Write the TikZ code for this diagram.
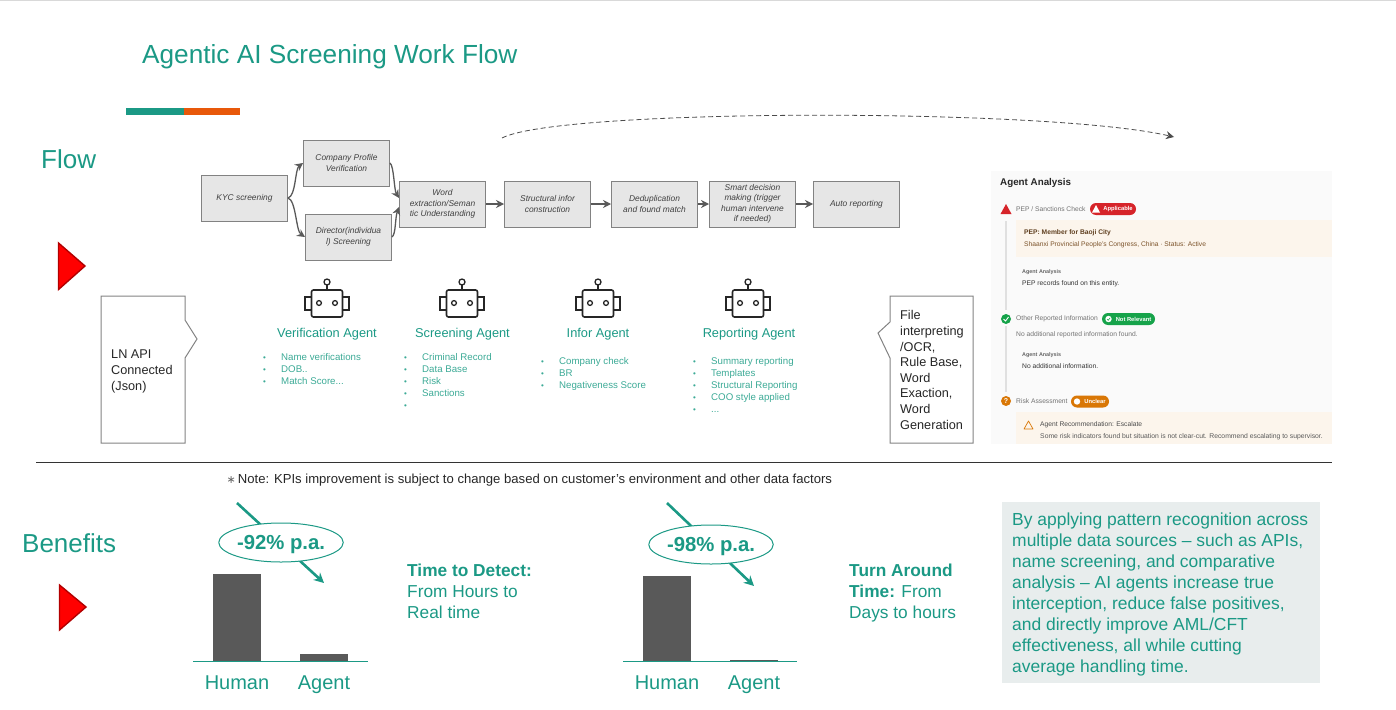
\documentclass[tikz,border=0pt]{standalone}
\usepackage{fontspec}
\setmainfont{Liberation Sans}
\newfontfamily\symfont{DejaVu Sans}
\usepackage{xcolor}
\usetikzlibrary{shapes.geometric,arrows.meta,positioning,calc}
\definecolor{screenteal}{RGB}{27,153,133}
\definecolor{listteal}{RGB}{60,170,150}
\definecolor{screenorange}{RGB}{232,88,10}
\definecolor{bargrey}{RGB}{89,89,89}
\definecolor{boxfill}{RGB}{230,230,230}
\definecolor{boxline}{RGB}{130,130,130}
\definecolor{panelfill}{RGB}{250,250,250}
\definecolor{peach}{RGB}{252,245,236}
\definecolor{summaryfill}{RGB}{232,237,237}
\definecolor{pillred}{RGB}{214,36,42}
\definecolor{pillgreen}{RGB}{22,163,74}
\definecolor{pillorange}{RGB}{217,119,6}
\newcommand{\fsize}[2]{\fontsize{#1}{#2}\selectfont}
\newcommand{\bul}{\makebox[18pt][l]{\fsize{8}{8}•}}
\tikzset{
  robot/.pic={
    \draw[line width=1.6pt, black!85, rounded corners=2pt] (-15.5,-13) rectangle (15.5,14);
    \draw[line width=1.3pt, black!85] (-15.5,-6) -- (-22,-6) -- (-22,7) -- (-15.5,7);
    \draw[line width=1.3pt, black!85] (15.5,-6) -- (22,-6) -- (22,7) -- (15.5,7);
    \draw[line width=1.3pt, black!85] (0,-13) -- (0,-18);
    \draw[line width=1.3pt, black!85] (0,-21) circle (3);
    \draw[line width=1.3pt, black!85] (-8,0) circle (2.4);
    \draw[line width=1.3pt, black!85] (8,0) circle (2.4);
  }
}
\begin{document}
\begin{tikzpicture}[x=1pt, y=-1pt,
  flowbox/.style={rectangle, draw=boxline, fill=boxfill, line width=1pt, minimum width=86pt,
    minimum height=46pt, inner sep=0pt, align=center, text=black!75, font=\fsize{8.4}{10.5}\itshape},
  flowarr/.style={-{Stealth[length=8pt, width=8pt]}, bargrey, line width=1.3pt},
  head/.style={anchor=west, inner sep=0pt, text=screenteal, font=\fsize{26}{30}},
  agentname/.style={inner sep=0pt, text=screenteal, font=\fsize{12.8}{15}},
  agentlist/.style={anchor=north west, inner sep=0pt, align=left, text=listteal, font=\fsize{9.7}{12}},
  note/.style={anchor=west, inner sep=0pt, align=left, text=black!85, font=\fsize{12.7}{15.6}},
  barlabel/.style={anchor=base, inner sep=0pt, text=screenteal, font=\fsize{20}{24}},
  kpi/.style={ellipse, draw=screenteal, fill=white, line width=1pt, minimum width=120pt, minimum height=39pt,
    inner sep=0pt, text depth=0pt, text=screenteal, font=\fsize{20.3}{24}\bfseries},
  kpiarr/.style={-{Stealth[length=10pt, width=10pt]}, screenteal, line width=2.6pt},
  benefit/.style={anchor=north west, inner sep=0pt, align=left, text=screenteal, font=\fsize{17.3}{21}},
  uitext/.style={anchor=west, inner sep=0pt, text=black!55, font=\fsize{6.7}{8}},
  uidark/.style={anchor=west, inner sep=0pt, text=black!80, font=\fsize{6.7}{8}},
  uismall/.style={anchor=west, inner sep=0pt, text=black!60, font=\fsize{5.4}{7}\bfseries},
  pill/.style={rounded corners=6pt, minimum height=12pt, inner sep=0pt, text=white, font=\fsize{5.8}{7}\bfseries},
  redtri/.style={fill=red, draw=red!70!black, line width=1.4pt}]
\useasboundingbox (0,0) rectangle (1396,709);
\draw[black!15, line width=0.8pt] (0,0.4) -- (1396,0.4);
% header
\node[head, font=\fsize{26.2}{30}] (title) at (142,57) {Agentic AI Screening Work Flow};
\fill[screenteal] (126,108) rectangle (184,115);
\fill[screenorange] (184,108) rectangle (240,115);
\node[head] (flowhead) at (41,159) {Flow};
\node[head] (benefithead) at (22,543) {Benefits};
\draw[redtri] (58.5,243) -- (85,266) -- (58.5,289.5) -- cycle;
\draw[redtri] (59.5,585) -- (86,607) -- (59.5,630) -- cycle;
% flow
\node[flowbox] (kyc) at (244.5,198) {KYC screening};
\node[flowbox] (company) at (346.5,163) {Company Profile\\Verification};
\node[flowbox] (director) at (348.5,237) {Director(individua\\l) Screening};
\node[flowbox] (word) at (442.5,204) {Word\\extraction/Seman\\tic Understanding};
\node[flowbox, right=18pt of word] (structural) {Structural infor\\construction};
\node[flowbox, right=20pt of structural] (dedup) {Deduplication\\and found match};
\node[flowbox, right=11pt of dedup] (smart) {Smart decision\\making (trigger\\human intervene\\if needed)};
\node[flowbox, right=17pt of smart] (auto) {Auto reporting};
\draw[flowarr] (kyc.east) .. controls ($(kyc.east)+(8,-2)$) and ($(company.west)+(-8,6)$) .. (company.west);
\draw[flowarr] (kyc.east) .. controls ($(kyc.east)+(8,2)$) and ($(director.west)+(-9,-6)$) .. (director.west);
\draw[flowarr] (company.east) .. controls ($(company.east)+(4,3)$) and ($(word.west)+(-5,-14)$) .. ($(word.west)+(0,-6)$);
\draw[flowarr] (director.east) .. controls ($(director.east)+(4,-3)$) and ($(word.west)+(-4,14)$) .. ($(word.west)+(0,3)$);
\foreach \a/\b in {word/structural,structural/dedup,dedup/smart,smart/auto} \draw[flowarr] (\a) -- (\b);
\coordinate (loopstart) at (502,138);
\coordinate (loopend) at (1174,137);
\draw[-{Stealth[length=8pt, width=8pt]}, black!70, dash pattern=on 5pt off 3pt, line width=0.8pt] (loopstart)
  .. controls (560,108) and (1050,108) .. (loopend);
% agents
\pic at (327,303) {robot};
\pic at (462,303) {robot};
\pic at (598,303) {robot};
\pic at (748,303) {robot};
\node[agentname] (veragent) at (327,334.5) {Verification Agent};
\node[agentname] (scragent) at (462.5,334.5) {Screening Agent};
\node[agentname] (infagent) at (598,334.5) {Infor Agent};
\node[agentname] (repagent) at (749,334.5) {Reporting Agent};
\node[agentlist] (verlist) at (263,353.5) {\bul Name verifications\\\bul DOB..\\\bul Match Score...};
\node[agentlist] (scrlist) at (404,353.5) {\bul Criminal Record\\\bul Data Base\\\bul Risk\\\bul Sanctions\\\bul};
\node[agentlist] (inflist) at (541,357.5) {\bul Company check\\\bul BR\\\bul Negativeness Score};
\node[agentlist] (replist) at (693,357.5) {\bul Summary reporting\\\bul Templates\\\bul Structural Reporting\\\bul COO style applied\\\bul ...};
% callouts
\draw[boxline, line width=1pt] (101,296) -- (185,296) -- (185,320) -- (197,339) -- (185,358) -- (185,443) -- (101,443) -- cycle;
\draw[boxline, line width=1pt] (890,296) -- (973,296) -- (973,443) -- (890,443) -- (890,358) -- (878,333) -- (890,322) -- cycle;
\node[note] (lnapi) at (111,371.5) {LN API\\Connected\\(Json)};
\node[note] (fileocr) at (900,370) {File\\interpreting\\/OCR,\\Rule Base,\\Word\\Exaction,\\Word\\Generation};
% agent analysis panel
\fill[panelfill] (991,171) rectangle (1332,444);
\fill[peach] (1016,220) rectangle (1332,257);
\fill[peach] (1016,412) rectangle (1332,444);
\fill[black!12] (1005,221) rectangle (1007,310);
\fill[black!12] (1005,326) rectangle (1007,392);
\node[anchor=west, inner sep=0pt, font=\fsize{9.8}{12}\bfseries, text=black!85] (paneltitle) at (1000,182.5) {Agent Analysis};
\fill[pillred] (1006,204) -- (1011.5,214) -- (1000.5,214) -- cycle;
\node[uitext] (pepcheck) at (1016,209) {PEP / Sanctions Check};
\node[pill, fill=pillred, minimum width=46pt] (applicable) at (1113,209) {\hspace{10pt}Applicable};
\fill[white] (1096,205) -- (1100,212.5) -- (1092,212.5) -- cycle;
\node[anchor=west, inner sep=0pt, font=\fsize{6.7}{8}\bfseries, text=black!50!brown] (pepmember) at (1024,232.5) {PEP: Member for Baoji City};
\node[uitext, text=black!35!brown] (pepshaanxi) at (1024,244.5) {Shaanxi Provincial People's Congress, China · Status: Active};
\node[uismall] (analysisa) at (1022,272.5) {Agent Analysis};
\node[uidark] (peprecords) at (1022,283.5) {PEP records found on this entity.};
\fill[pillgreen] (1006,319) circle (5);
\draw[white, line width=0.9pt] (1003.5,319) -- (1005.5,321) -- (1008.5,317);
\node[uitext] (otherinfo) at (1016,318.5) {Other Reported Information};
\node[pill, fill=pillgreen, minimum width=53pt] (notrelevant) at (1128.5,319) {\hspace{10pt}Not Relevant};
\fill[white] (1108.5,319) circle (3.2);
\draw[pillgreen, line width=0.6pt] (1107,319) -- (1108.2,320.3) -- (1110.2,317.8);
\node[uitext] (noreported) at (1016,335) {No additional reported information found.};
\node[uismall] (analysisb) at (1022,355.5) {Agent Analysis};
\node[uidark] (noinfo) at (1022,366.5) {No additional information.};
\fill[pillorange] (1006,401) circle (5);
\node[inner sep=0pt, text=white, font=\fsize{7}{8}\bfseries] (riskmark) at (1006,401) {?};
\node[uitext] (riskhead) at (1016,401) {Risk Assessment};
\node[pill, fill=pillorange, minimum width=38pt] (unclear) at (1090,401.5) {\hspace{10pt}Unclear};
\fill[white] (1077,401.5) circle (3.2);
\draw[pillorange, line width=0.7pt, line join=round] (1028.5,421) -- (1033,429) -- (1024,429) -- cycle;
\node[uidark, text=black!70] (recommend) at (1040,425) {Agent Recommendation: Escalate};
\node[uidark, text=black!65, font=\fsize{6.8}{8}] (riskfound) at (1040,437) {Some risk indicators found but situation is not clear-cut. Recommend escalating to supervisor.};
% benefits
\draw[black!80, line width=0.8pt] (36,462.5) -- (1332,462.5);
\node[anchor=west, inner sep=0pt, text=black!85, font=\fsize{13.1}{15}] (kpinote) at (226.5,480) {{\symfont\color{black!60}\fsize{11}{14}∗}\hspace{2pt}Note: KPIs improvement is subject to change based on customer’s environment and other data factors};
\coordinate (kpifroma) at (237,503);
\coordinate (kpitoa) at (324,583);
\coordinate (kpifromb) at (667,503);
\coordinate (kpitob) at (754,586);
\draw[kpiarr] (kpifroma) -- (kpitoa);
\draw[kpiarr] (kpifromb) -- (kpitob);
\node[kpi] (kpia) at (281,542.5) {-92\% p.a.};
\node[kpi] (kpib) at (711,544.5) {-98\% p.a.};
\fill[bargrey] (213,574) rectangle (261,661);
\fill[bargrey] (300,654) rectangle (348,661);
\fill[bargrey] (643,576) rectangle (691,661);
\fill[bargrey] (730,660) rectangle (778,661);
\draw[screenteal, line width=0.9pt] (193,661.5) -- (368,661.5);
\draw[screenteal, line width=0.9pt] (623,661.5) -- (797,661.5);
\node[barlabel] (humana) at (237,689) {Human};
\node[barlabel] (agenta) at (324,689) {Agent};
\node[barlabel] (humanb) at (667,689) {Human};
\node[barlabel] (agentb) at (754,689) {Agent};
\node[benefit] (ttd) at (407,564) {\textbf{Time to Detect:}\\From Hours to\\Real time};
\node[benefit] (tat) at (849,564) {\textbf{Turn Around}\\\textbf{Time:} From\\Days to hours};
\node[anchor=north west, minimum width=318pt, minimum height=181pt, fill=summaryfill, inner sep=0pt] (summarybox) at (1002,502) {};
\node[benefit, font=\fsize{17.45}{21}] (summary) at (1012,512.5) {By applying pattern recognition across\\multiple data sources – such as APIs,\\name screening, and comparative\\analysis – AI agents increase true\\interception, reduce false positives,\\and directly improve AML/CFT\\effectiveness, all while cutting\\average handling time.};
\end{tikzpicture}
\end{document}
